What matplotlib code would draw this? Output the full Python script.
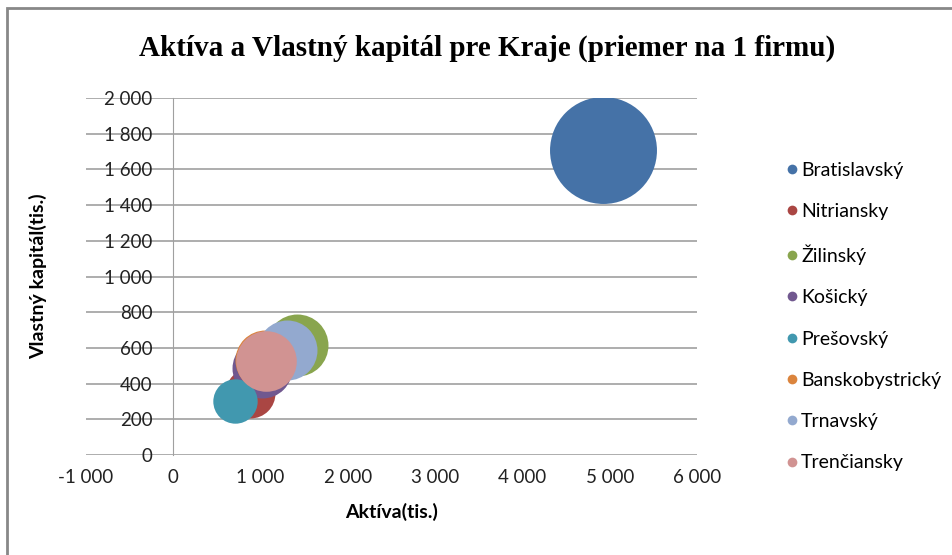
import matplotlib.pyplot as plt
from matplotlib.lines import Line2D
from matplotlib.patches import Rectangle
from matplotlib.ticker import FuncFormatter

kraje = ["Bratislavský", "Nitriansky", "Žilinský", "Košický",
         "Prešovský", "Banskobystrický", "Trnavský", "Trenčiansky"]
aktiva = [4926, 882, 1420, 1019, 705, 1055, 1306, 1065]
kapital = [1709, 347, 616, 487, 300, 535, 588, 527]
bubble = [2862, 625, 961, 900, 493, 900, 900, 918]
farby = ["#4572A7", "#AA4643", "#89A54E", "#71588F",
         "#4198AF", "#DB843D", "#93A9CF", "#D19392"]

plt.rcParams['font.family'] = ['Lato', 'DejaVu Sans']


def fmt(v, pos):
    return f"{int(v):,}".replace(",", " ")


fig = plt.figure(figsize=(9.52, 5.55), dpi=100)
ax = fig.add_axes([86 / 952, 100 / 555, 611 / 952, 357 / 555])

max_d = 77.0
for i, k in enumerate(kraje):
    s = bubble[i] / max(bubble) * max_d ** 2
    ax.scatter(aktiva[i], kapital[i], s=s, color=farby[i], zorder=3 + i,
               linewidths=0)

ax.set_xlim(-1000, 6000)
ax.set_ylim(0, 2000)
ax.set_xticks(range(-1000, 6001, 1000))
ax.set_yticks(range(0, 2001, 200))
ax.xaxis.set_major_formatter(FuncFormatter(fmt))
ax.yaxis.set_major_formatter(FuncFormatter(fmt))

ax.grid(axis='y', color='#a0a0a0', linewidth=1.2, zorder=0)
ax.set_axisbelow(True)
for sp in ['top', 'right', 'bottom']:
    ax.spines[sp].set_visible(False)
ax.spines['left'].set_position(('data', 0))
ax.spines['left'].set_color('#a0a0a0')
ax.spines['left'].set_zorder(1)
ax.tick_params(axis='y', length=0, pad=15, labelsize=13.5, colors='#222222')
ax.tick_params(axis='x', length=0, pad=10, labelsize=13.5, colors='#222222')

ax.set_xlabel("Aktíva(tis.)", fontsize=14, fontweight='bold', labelpad=12)
fig.text(38 / 952, 1 - 276 / 555, "Vlastný kapitál(tis.)", rotation=90,
         fontsize=14, fontweight='bold', ha='center', va='center')

fig.text(487 / 952, 1 - 48 / 555,
         "Aktíva a Vlastný kapitál pre Kraje (priemer na 1 firmu)",
         family='Liberation Serif', fontweight='bold', fontsize=21,
         ha='center', va='center')

handles = [Line2D([], [], marker='o', linestyle='', markersize=7,
                  markerfacecolor=c, markeredgewidth=0) for c in farby]
fig.legend(handles, kraje, loc='upper left',
           bbox_to_anchor=(774 / 952, 1 - 154 / 555), frameon=False,
           fontsize=14, labelspacing=1.25, handletextpad=0.0,
           handlelength=1.0, borderaxespad=0)

fig.patches.append(Rectangle((7 / 952, -0.1), 1.2, (555 - 8) / 555 + 0.1,
                             transform=fig.transFigure, fill=False,
                             edgecolor='#888888', linewidth=2))

fig.savefig("out.png", dpi=100)
